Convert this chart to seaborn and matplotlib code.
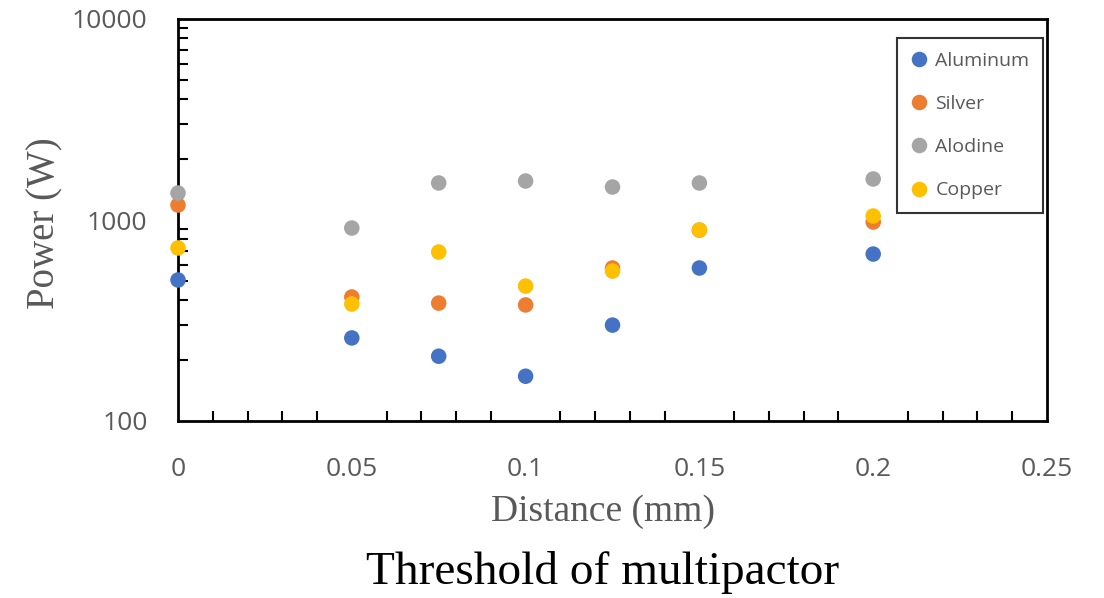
import numpy as np
import pandas as pd
import matplotlib
matplotlib.use("Agg")
import matplotlib.pyplot as plt
import seaborn as sns
from matplotlib.ticker import FixedLocator, NullFormatter, LogLocator

distance = [0, 0.05, 0.075, 0.1, 0.125, 0.15, 0.2]
aluminum = [503, 259, 210, 167, 300, 577, 677]
silver = [1187, 414, 386, 378, 577, 891, 977]
alodine = [1362, 912, 1528, 1563, 1459, 1528, 1600]
copper = [726, 382, 693, 469, 557, 891, 1047]
series_names = ["Aluminum", "Silver", "Alodine", "Copper"]
colors = ["#4472C4", "#ED7D31", "#A5A5A5", "#FFC000"]
x_ticks = [0, 0.05, 0.1, 0.15, 0.2, 0.25]
x_tick_labels = ["0", "0.05", "0.1", "0.15", "0.2", "0.25"]
y_ticks = [100, 1000, 10000]
y_tick_labels = ["100", "1000", "10000"]

rows = []
for name, vals in zip(series_names, [aluminum, silver, alodine, copper]):
    for d, v in zip(distance, vals):
        rows.append({"Distance": d, "Power": v, "Material": name})
df = pd.DataFrame(rows)

sns.set_theme(style="white")
fig = plt.figure(figsize=(11.04, 5.98), dpi=100)
ax = fig.add_axes([178/1104, 1-421/598, (1047-178)/1104, (421-19)/598])

sns.scatterplot(data=df, x="Distance", y="Power", hue="Material",
                hue_order=series_names, palette=colors, s=125,
                edgecolor="none", ax=ax, zorder=3, clip_on=False)

ax.set_yscale("log")
ax.set_xlim(0, 0.25)
ax.set_ylim(100, 10000)

ax.set_xticks(x_ticks)
ax.set_xticklabels(x_tick_labels)
ax.set_yticks(y_ticks)
ax.set_yticklabels(y_tick_labels)
ax.xaxis.set_minor_locator(FixedLocator(np.arange(0.01, 0.25, 0.01)))
ax.yaxis.set_minor_locator(LogLocator(base=10, subs=np.arange(2, 10)))
ax.yaxis.set_minor_formatter(NullFormatter())

for lab in ax.get_xticklabels() + ax.get_yticklabels():
    lab.set_fontfamily(["Open Sans", "DejaVu Sans"])
    lab.set_fontsize(19)
    lab.set_color("#595959")

ax.tick_params(axis="x", which="major", direction="in", length=0, pad=26)
ax.tick_params(axis="y", which="major", direction="in", length=7, width=1.5, pad=22, color="black")
ax.tick_params(axis="x", which="minor", direction="in", length=7, width=1.5, color="black", bottom=True)
ax.tick_params(axis="y", which="minor", direction="in", length=7, width=1.5, color="black", left=True)
ax.tick_params(top=False, right=False)

for sp in ax.spines.values():
    sp.set_color("black")
    sp.set_linewidth(2)

ax.set_xlabel("Distance (mm)", fontfamily="Liberation Serif", fontsize=27,
              color="#595959", va="center")
ax.set_ylabel("Power (W)", fontfamily="Liberation Serif", fontsize=28,
              color="#595959", va="center")
ax.xaxis.set_label_coords((603-178)/869, (421-512)/402)
ax.yaxis.set_label_coords((45-178)/869, (421-223)/402)

leg = ax.legend(loc="upper right", bbox_to_anchor=((1043-178)/869, (421-38)/402),
                borderaxespad=0, frameon=True,
                fancybox=False, edgecolor="black", prop={"family": "Open Sans", "size": 14},
                labelspacing=1.3, handlelength=0.8, handletextpad=0.45,
                borderpad=0.7, markerscale=1.0)
leg.get_frame().set_linewidth(1.5)
for t in leg.get_texts():
    t.set_color("#595959")
leg.set_title(None)

fig.text(603/1104, 1-572/598, "Threshold of multipactor", ha="center", va="center",
         fontfamily="Liberation Serif", fontsize=34, color="black")

fig.savefig("out.png", dpi=100)
